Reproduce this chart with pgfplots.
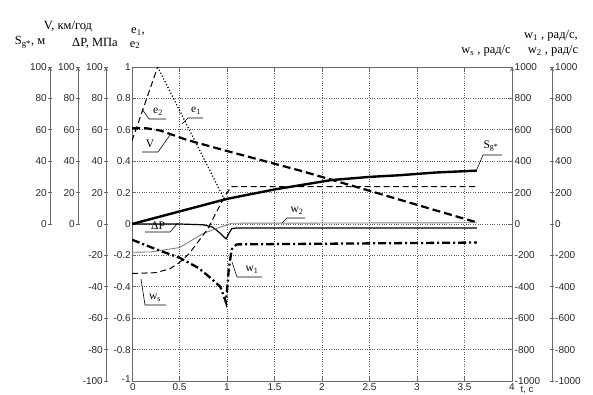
\documentclass[border=0pt]{standalone}
\usepackage{fontspec}
\setmainfont{Liberation Serif}
\newfontfamily\ticksf{Liberation Sans}
\usepackage{pgfplots}
\pgfplotsset{compat=1.18}
\definecolor{axgray}{RGB}{105,105,105}
\definecolor{lblgray}{RGB}{40,40,40}
\pgfplotsset{
  common/.style={
    scale only axis, anchor=south west,
    axis line style={-, draw=axgray, line width=0.9pt},
    tick align=inside, tick style={draw=axgray, line width=0.9pt}, major tick length=4pt,
    yticklabel style={font=\ticksf\fontsize{10}{10}\selectfont, text=lblgray, inner sep=1pt},
    xticklabel style={font=\ticksf\fontsize{10}{10}\selectfont, text=lblgray, inner sep=1pt, yshift=-1pt},
    /pgf/number format/assume math mode=true,
    /pgf/number format/1000 sep={},
    scaled ticks=false,
  },
  exaxis/.style={common, axis x line=none, axis y line=left, xmin=0, xmax=1, width=6pt},
  mainbox/.style={common, at={(132pt,13pt)}, width=380pt, height=314pt, xmin=0, xmax=4},
}
\begin{document}
\begin{tikzpicture}
\path[use as bounding box] (0,0) rectangle (593pt,394pt);
% --- extra left axes ---
\begin{axis}[exaxis, at={(50pt,170pt)}, height=157pt, ymin=0, ymax=100, ytick={0,20,40,60,80,100}]
\end{axis}
\begin{axis}[exaxis, at={(78pt,170pt)}, height=157pt, ymin=0, ymax=100, ytick={0,20,40,60,80,100}]
\end{axis}
\begin{axis}[exaxis, at={(106pt,13pt)}, height=314pt, ymin=-100, ymax=100, ytick={-100,-80,-60,-40,-20,0,20,40,60,80,100}]
\end{axis}
% --- extra right axis ---
\begin{axis}[common, axis x line=none, axis y line=right, xmin=0, xmax=1, width=6pt,
  at={(546pt,13pt)}, height=314pt, ymin=-1000, ymax=1000,
  ytick={-1000,-800,-600,-400,-200,0,200,400,600,800,1000}]
\end{axis}
% --- main axis (e1, e2) ---
\begin{axis}[mainbox, ymin=-1, ymax=1,
  xtick={0,0.5,1,1.5,2,2.5,3,3.5,4},
  xticklabels={\hspace*{2pt}0,0.5,1,1.5,2,2.5,3,3.5,4},
  ytick={-1,-0.8,-0.6,-0.4,-0.2,0,0.2,0.4,0.6,0.8,1},
  yticklabels={\raisebox{3pt}{-1},-0.8,-0.6,-0.4,-0.2,0,0.2,0.4,0.6,0.8,1},
  grid=major, grid style={dotted, black!65, line width=0.7pt}]
\addplot[black, line width=1pt, dash pattern=on 6pt off 3.5pt] coordinates {(0,0.53) (0.27,1.0)}; % e2
\addplot[black, dotted, line width=1.2pt] coordinates {(0.27,1.0) (0.97,0.16)}; % e1
\end{axis}
% --- S, V, dP in their own units ---
\begin{axis}[mainbox, ymin=-100, ymax=100, hide axis]
\addplot[black, line width=2.4pt] coordinates {(0,0) (0.5,8) (1,16) (1.5,22) (1.8,25) (2.1,28) (2.5,30) (2.8,31) (3.2,32.8) (3.63,34)}; % S
\addplot[black, line width=2.2pt, dash pattern=on 8pt off 4pt] coordinates {(0,61) (0.15,61) (0.3,59.5) (0.58,53.5) (1,46.5) (1.77,34) (2.47,21.7) (3.0,12.2) (3.63,1)}; % V
\addplot[black, line width=1.2pt] coordinates {(0,0) (0.5,0) (0.75,-0.5) (0.85,-2) (0.93,-6) (0.99,-9.5) (1.02,-6) (1.05,-3) (1.1,-2.5) (3.63,-2.5)}; % dP
\end{axis}
% --- w1, w2, ws on right axis ---
\begin{axis}[mainbox, ymin=-1000, ymax=1000, axis x line=none, axis y line=right,
  ytick={-1000,-800,-600,-400,-200,0,200,400,600,800,1000}, major tick length=0pt,
  yticklabel style={xshift=1.5pt}]
\addplot[gray, line width=0.9pt] coordinates {(0,-180) (0.2,-178) (0.5,-150) (0.75,-60) (0.93,-20) (1.05,5) (3.63,8)}; % w2
\addplot[black, line width=1pt, dash pattern=on 6pt off 3.5pt] coordinates {(0,-315) (0.25,-310) (0.4,-285) (0.5,-245) (0.6,-190) (0.7,-110) (0.8,-30) (0.9,90) (1.0,200) (1.05,238) (3.63,238)}; % ws
\addplot[black, line width=2.3pt, dash pattern=on 8pt off 3pt on 2pt off 3pt] coordinates {(0,-100) (0.25,-160) (0.5,-215) (0.7,-280) (0.82,-340) (0.93,-400) (0.99,-500) (1.02,-280) (1.05,-160) (1.1,-130) (3.63,-118)}; % w1
\end{axis}
% --- annotations in pixel coordinates ---
\begin{scope}[x=1pt, y=-1pt, yshift=394pt, every node/.style={font=\fontsize{12.5}{13}\selectfont, inner sep=0pt}]
\node at (68,27) {V, км/год};
\node at (30,42) {S\textsubscript{g*}, м};
\node at (95,43) {ΔP, МПа};
\node at (138,32) {e\textsubscript{1},};
\node at (135,45) {e\textsubscript{2}};
\node at (551,36) {w\textsubscript{1} , рад/с,};
\node at (486,51) {w\textsubscript{s} , рад/с};
\node at (553,51) {w\textsubscript{2} , рад/с};
\node[font=\ticksf\fontsize{9.5}{10}\selectfont, text=lblgray] at (527,390.3) {t, c};
\begin{scope}[every node/.style={font=\fontsize{11.5}{12}\selectfont, inner sep=0pt}]
\draw[line width=0.6pt] (142,109) -- (149,119) -- (166,119); \node at (158,112) {e\textsubscript{2}};
\draw[line width=0.6pt] (182,124) -- (188,118) -- (203,118); \node at (196,111) {e\textsubscript{1}};
\draw[line width=0.6pt] (142,152) -- (158,152) -- (170,135); \node at (150,144) {V};
\draw[line width=0.6pt] (145,232) -- (170,232) -- (178,223); \node at (158,226) {ΔP};
\draw[line width=0.6pt] (282,223) -- (287,218) -- (305,218); \node at (297,211) {w\textsubscript{2}};
\draw[line width=0.6pt] (232,262) -- (237,277) -- (262,277); \node at (252,270) {w\textsubscript{1}};
\draw[line width=0.6pt] (141,279) -- (145,305) -- (166,305); \node at (155,298) {w\textsubscript{s}};
\draw[line width=0.6pt] (477,169) -- (483,155) -- (502,155); \node at (491,146) {S\textsubscript{g*}};
\end{scope}
\end{scope}
\end{tikzpicture}
\end{document}
